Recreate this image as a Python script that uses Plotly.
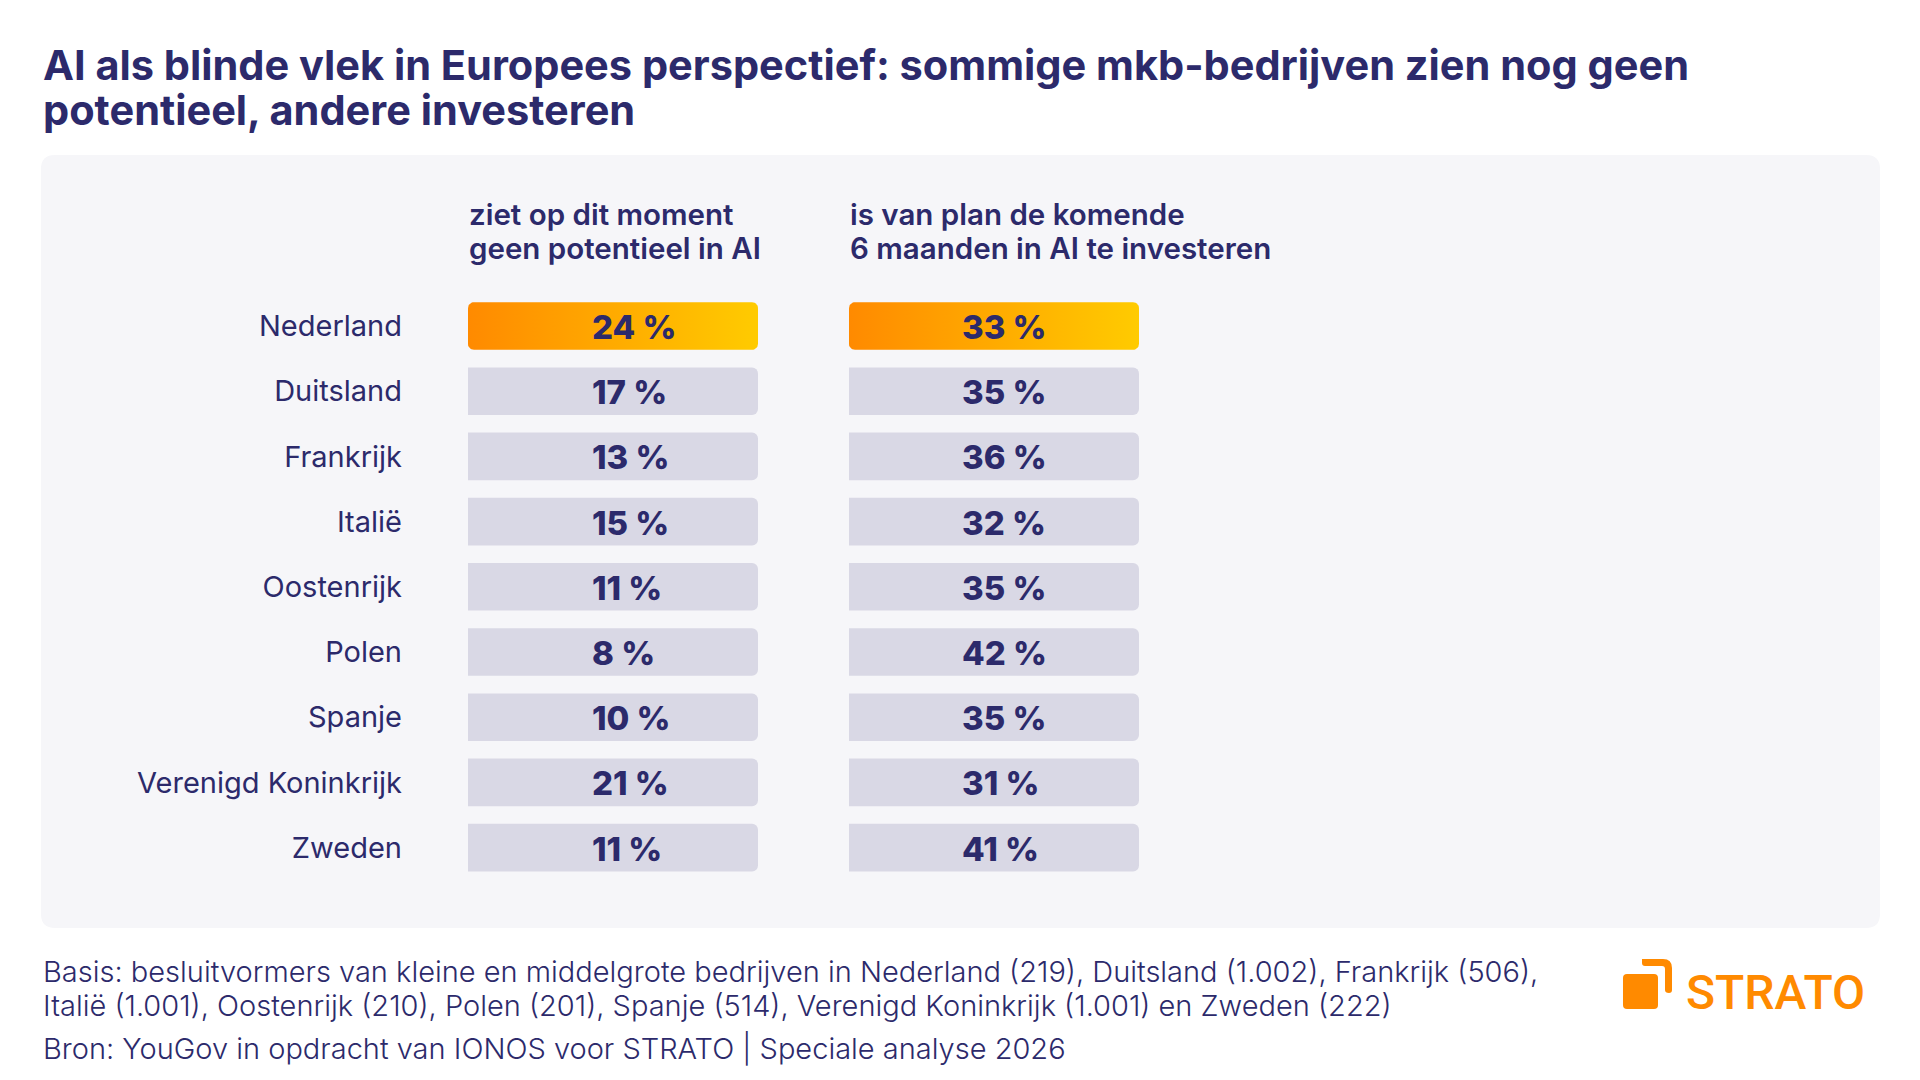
import plotly.graph_objects as go
import numpy as np

# ---- data ----
countries = ["Nederland", "Duitsland", "Frankrijk", "Italië", "Oostenrijk",
             "Polen", "Spanje", "Verenigd Koninkrijk", "Zweden"]
no_potential = [24, 17, 13, 15, 11, 8, 10, 21, 11]
plan_invest = [33, 35, 36, 32, 35, 42, 35, 31, 41]
highlight = "Nederland"
col_headers = [["ziet op dit moment", "geen potentieel in AI"],
               ["is van plan de komende", "6 maanden in AI te investeren"]]
title_lines = ["AI als blinde vlek in Europees perspectief: sommige mkb-bedrijven zien nog geen",
               "potentieel, andere investeren"]
footer_lines = ["Basis: besluitvormers van kleine en middelgrote bedrijven in Nederland (219), Duitsland (1.002), Frankrijk (506),",
                "Italië (1.001), Oostenrijk (210), Polen (201), Spanje (514), Verenigd Koninkrijk (1.001) en Zweden (222)",
                "Bron: YouGov in opdracht van IONOS voor STRATO | Speciale analyse 2026"]

# ---- style ----
W, H = 1920, 1080
NAVY = "#2C2A6B"
GRAY_BAR = "#D9D8E5"
PANEL = "#F6F6F9"
ORANGE = "#FF8A00"
FONT = "Inter, Roboto, sans-serif"
BAR_LEN = 1.0
BAR_W = 0.73
COL_X = [(468, 758), (849, 1139)]
TEXT_X = [591, 961]          # left edge of value labels (px)
ROW0, ROWSTEP = 326, 65.2


def px(x):
    return x / W


def py(y):
    return 1 - y / H


def rr_path(x0, y0, x1, y1, r):
    def P(x, y):
        return f"{px(x):.5f},{py(y):.5f}"
    return (f"M {P(x0 + r, y0)} L {P(x1 - r, y0)} Q {P(x1, y0)} {P(x1, y0 + r)} "
            f"L {P(x1, y1 - r)} Q {P(x1, y1)} {P(x1 - r, y1)} "
            f"L {P(x0 + r, y1)} Q {P(x0, y1)} {P(x0, y1 - r)} "
            f"L {P(x0, y0 + r)} Q {P(x0, y0)} {P(x0 + r, y0)} Z")


def rounded_poly(x0, x1, yc, h, rx, ry, n=8):
    y0, y1 = yc - h / 2, yc + h / 2
    xs, ys = [], []
    corners = [(x1 - rx, y0 + ry, -np.pi / 2, 0),
               (x1 - rx, y1 - ry, 0, np.pi / 2),
               (x0 + rx, y1 - ry, np.pi / 2, np.pi),
               (x0 + rx, y0 + ry, np.pi, 1.5 * np.pi)]
    for cx, cy, a0, a1 in corners:
        for t in np.linspace(a0, a1, n):
            xs.append(cx + rx * np.cos(t))
            ys.append(cy + ry * np.sin(t))
    xs.append(xs[0]); ys.append(ys[0])
    return xs, ys


n = len(countries)
idx = list(range(n))
fig = go.Figure()
ann = []

for k, (vals, xa) in enumerate([(no_potential, "x"), (plan_invest, "x2")]):
    colors = ["rgba(0,0,0,0)" if c == highlight else GRAY_BAR for c in countries]
    fig.add_trace(go.Bar(
        x=[BAR_LEN] * n, y=idx, orientation="h", width=BAR_W,
        marker=dict(color=colors, cornerradius=6, line=dict(width=0)),
        xaxis=xa, yaxis="y", hoverinfo="skip", showlegend=False))
    # gradient highlight
    hi = countries.index(highlight)
    xw = COL_X[k][1] - COL_X[k][0]
    gx, gy = rounded_poly(0, BAR_LEN, hi, BAR_W, 6 / xw * BAR_LEN, 6 / ROWSTEP)
    fig.add_trace(go.Scatter(
        x=gx, y=gy, mode="lines", fill="toself", line=dict(width=0),
        fillgradient=dict(type="horizontal",
                          colorscale=[[0, "#FF8A00"], [1, "#FFCB00"]]),
        xaxis=xa, yaxis="y", hoverinfo="skip", showlegend=False))
    xoff = (TEXT_X[k] - COL_X[k][0]) / xw * BAR_LEN
    for i, v in enumerate(vals):
        ann.append(dict(text=f"{v} %", x=xoff, y=i, xref=xa, yref="y",
                        xanchor="left", yanchor="middle", yshift=-1,
                        font=dict(family=FONT, size=33, color=NAVY, weight=800)))

y_top = ROW0 - ROWSTEP / 2
y_bot = ROW0 + ROWSTEP * (n - 0.5)

fig.update_layout(
    width=W, height=H, autosize=False,
    margin=dict(l=0, r=0, t=0, b=0, pad=0),
    paper_bgcolor="white", plot_bgcolor="rgba(0,0,0,0)",
    font=dict(family=FONT, color=NAVY),
    xaxis=dict(domain=[px(COL_X[0][0]), px(COL_X[0][1])], range=[0, BAR_LEN],
               visible=False, fixedrange=True, anchor="y"),
    xaxis2=dict(domain=[px(COL_X[1][0]), px(COL_X[1][1])], range=[0, BAR_LEN],
                visible=False, fixedrange=True, anchor="y"),
    yaxis=dict(domain=[py(y_bot), py(y_top)], range=[n - 0.5, -0.5],
               tickvals=idx, ticktext=countries, showgrid=False, zeroline=False,
               showline=False, ticks="", ticklabelstandoff=65,
               tickfont=dict(family=FONT, size=29, color=NAVY, weight=400),
               anchor="x", fixedrange=True),
)

shapes = [
    dict(type="path", path=rr_path(41, 155, 1880, 928, 14), xref="paper", yref="paper",
         fillcolor=PANEL, line=dict(width=0), layer="below"),
    # STRATO logo icon
    dict(type="path", path=rr_path(1623, 974, 1658, 1009, 4), xref="paper", yref="paper",
         fillcolor=ORANGE, line=dict(width=0)),
    dict(type="path",
         path=(f"M {px(1642)},{py(959)} L {px(1663)},{py(959)} Q {px(1672)},{py(959)} {px(1672)},{py(968)} "
               f"L {px(1672)},{py(990)} Q {px(1672)},{py(993)} {px(1669)},{py(993)} "
               f"Q {px(1665)},{py(993)} {px(1665)},{py(990)} L {px(1665)},{py(969)} Q {px(1665)},{py(966)} {px(1662)},{py(966)} "
               f"L {px(1645)},{py(966)} Q {px(1642)},{py(966)} {px(1642)},{py(963)} Z"),
         xref="paper", yref="paper", fillcolor=ORANGE, line=dict(width=0)),
]
fig.update_layout(shapes=shapes)


def text_line(txt, x, baseline, size, weight, color=NAVY, family=FONT, xanchor="left"):
    return dict(text=txt, x=px(x), y=py(baseline - size), xanchor=xanchor, yanchor="top",
                align="left", xref="paper", yref="paper",
                font=dict(family=family, size=size, color=color, weight=weight))


for t, b in zip(title_lines, [80, 125]):
    ann.append(text_line(t, 42, b, 41.5, 700))
for k in range(2):
    for t, b in zip(col_headers[k], [224, 258]):
        ann.append(text_line(t, COL_X[k][0], b, 29.5, 600))
for t, b in zip(footer_lines, [982, 1016, 1059]):
    ann.append(text_line(t, 42, b, 29, 300))
ann.append(dict(text="STRATO", x=px(1866), y=py(992), xanchor="right", yanchor="middle",
                xref="paper", yref="paper",
                font=dict(family="Roboto, sans-serif", size=48, color=ORANGE, weight=500)))
for a in ann:
    a.update(showarrow=False, borderpad=0)
fig.update_layout(annotations=ann)

fig.write_html("out.html", config=dict(displayModeBar=False))
